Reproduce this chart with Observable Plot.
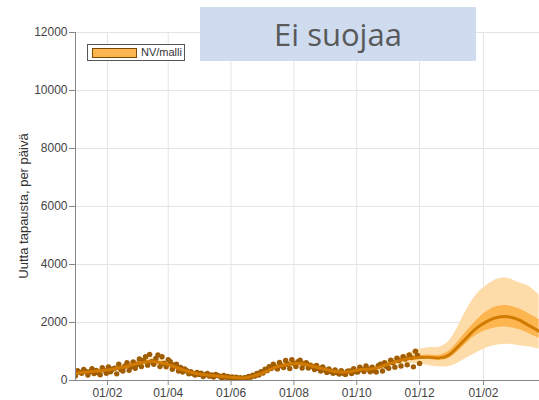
<!DOCTYPE html>
<html><head><meta charset="utf-8">
<script src="https://cdn.jsdelivr.net/npm/d3@7"></script>
<script src="https://cdn.jsdelivr.net/npm/@observablehq/plot@0.6"></script>
<style>
body{margin:0;background:#fff;}
#wrap{position:relative;width:539px;height:400px;overflow:hidden;}
#title{position:absolute;left:200px;top:7px;width:276px;height:54px;background:#cfdcf0;color:#595959;font-family:"Open Sans";font-size:31px;display:flex;align-items:center;justify-content:center;}
#legend{position:absolute;left:87px;top:44px;width:96px;height:15px;background:#fff;border:1px solid #555;font-family:"Liberation Sans",Arial;font-size:11px;color:#333;}
#legend .sw{position:absolute;left:4px;top:3px;width:43px;height:8px;background:#fdb550;border:1px solid #7a4a00;}
#legend .tx{position:absolute;left:53px;top:1px;line-height:13px;}
</style></head>
<body><div id="wrap"></div>
<script>
// ---- data ----
const titleText = "Ei suojaa";
const seriesName = "NV/malli";
const yLabel = "Uutta tapausta, per päivä";
const yTicks = [0, 2000, 4000, 6000, 8000, 10000, 12000];
const xTickLabels = ["2021-02-01","2021-04-01","2021-06-01","2021-08-01","2021-10-01","2021-12-01","2022-02-01"];
const xDomain = ["2021-01-01","2022-03-27T10:00"];

// observed daily cases, every 2nd day from 2021-01-01
const dotStart = "2021-01-01";
const dotValues = [
 160,340,290,250,380,310,190,
 300,410,240,350,270,200,440,
 350,250,470,300,390,420,230,
 560,380,330,490,610,350,470,
 640,420,560,740,480,690,820,
 530,900,650,560,760,880,480,
 820,590,470,720,650,390,540,
 560,330,450,290,400,340,230,
 300,240,190,280,210,250,140,
 200,240,150,190,120,210,170,
 150,90,170,110,140,80,120,
 60,110,70,95,50,100,80,
 140,110,180,150,240,190,300,
 260,390,340,480,410,560,470,
 400,620,510,450,690,560,410,
 720,590,480,650,700,430,580,
 610,430,530,480,380,520,410,
 330,470,360,280,400,310,250,
 360,270,220,340,250,210,320,
 330,240,410,300,290,460,380,
 310,500,400,300,460,340,290,
 510,560,330,610,480,420,700,
 620,460,770,690,500,820,740,
 540,880,790,470,1010,860,590
];

// model
const modelDates = ["2021-01-01","2021-01-15","2021-02-01","2021-02-15","2021-03-01","2021-03-12","2021-03-25","2021-04-05","2021-04-15","2021-05-01","2021-05-15","2021-06-01","2021-06-15","2021-07-01","2021-07-15","2021-08-01","2021-08-10","2021-08-20","2021-09-01","2021-09-12","2021-09-22","2021-10-05","2021-10-18","2021-11-01","2021-11-15","2021-12-01","2021-12-10","2021-12-20","2021-12-28","2022-01-05","2022-01-15","2022-01-25","2022-02-05","2022-02-15","2022-02-25","2022-03-07","2022-03-17","2022-03-27"];
const modelMed = [250,300,360,450,570,650,610,500,370,220,170,115,95,250,470,580,570,480,380,300,290,380,410,570,720,790,800,780,850,1080,1450,1800,2050,2180,2200,2100,1900,1700];
const modelLo50 = [225,270,330,415,530,605,565,460,340,200,155,100,82,225,430,540,530,445,350,275,265,350,375,525,665,720,720,690,740,930,1260,1560,1740,1830,1840,1760,1620,1450];
const modelHi50 = [275,330,390,485,610,695,655,540,400,240,185,130,108,275,510,625,610,515,410,325,315,410,445,615,775,860,880,870,970,1240,1660,2060,2400,2560,2580,2480,2300,2100];
const modelLo95 = [190,230,290,370,470,540,500,410,300,170,130,80,65,190,380,470,460,390,300,240,230,310,330,450,580,560,520,470,470,560,760,950,1130,1220,1250,1210,1160,1080];
const modelHi95 = [310,370,440,540,680,770,730,600,450,275,215,155,130,320,570,700,690,580,460,365,355,455,500,700,880,1080,1130,1150,1300,1700,2400,2950,3300,3500,3520,3380,3250,2950];

// ---- build ----
const start = new Date(dotStart);
const dots = dotValues.map((v, i) => ({date: d3.utcDay.offset(start, 2 * i), value: v}));
const model = modelDates.map((d, i) => ({date: new Date(d), med: modelMed[i], lo50: modelLo50[i], hi50: modelHi50[i], lo95: modelLo95[i], hi95: modelHi95[i]}));
const xTicks = xTickLabels.map(d => new Date(d));
const xd = xDomain.map(d => new Date(d));

const chart = Plot.plot({
  width: 539, height: 400,
  marginTop: 32, marginBottom: 20, marginLeft: 75, marginRight: 0,
  style: {fontFamily: "'Liberation Sans', Arial, sans-serif", fontSize: "12px", color: "#444", background: "#fff"},
  x: {type: "utc", domain: xd},
  y: {domain: [0, 12000]},
  marks: [
    Plot.gridY(yTicks, {stroke: "#e4e4e4", strokeOpacity: 1}),
    Plot.gridX(xTicks, {stroke: "#e4e4e4", strokeOpacity: 1}),
    Plot.areaY(model, {x: "date", y1: "lo95", y2: "hi95", fill: "#fedcaa", curve: "catmull-rom", clip: true}),
    Plot.areaY(model, {x: "date", y1: "lo50", y2: "hi50", fill: "#fdb550", curve: "catmull-rom", clip: true}),
    Plot.dot(dots, {x: "date", y: "value", r: 2.7, fill: "#a05c00", stroke: "none", clip: true}),
    Plot.line(model, {x: "date", y: "med", stroke: "#d07a00", strokeWidth: 3, curve: "catmull-rom", clip: true}),
    Plot.ruleX([xd[0]], {stroke: "#888", y1: 0, y2: 12000}),
    Plot.ruleY([0], {stroke: "#888"}),
    Plot.axisY({ticks: yTicks, tickSize: 6, tickPadding: 2, tickFormat: d => String(d), label: null, stroke: "#888"}),
    Plot.axisX({ticks: xTicks, tickSize: 5, tickPadding: 3, tickFormat: d3.utcFormat("%d/%m"), label: null, stroke: "#888"})
  ]
});

const wrap = document.getElementById("wrap");
wrap.appendChild(chart);
d3.select(chart).append("text")
  .attr("transform", "translate(25,206) rotate(-90)")
  .attr("text-anchor", "middle").attr("dominant-baseline", "middle")
  .attr("font-size", "13px").attr("fill", "#333")
  .text(yLabel);

const t = document.createElement("div");
t.id = "title"; t.textContent = titleText;
wrap.appendChild(t);
const lg = document.createElement("div");
lg.id = "legend";
lg.innerHTML = '<div class="sw"></div><div class="tx"></div>';
lg.querySelector(".tx").textContent = seriesName;
wrap.appendChild(lg);
</script>
</body></html>
